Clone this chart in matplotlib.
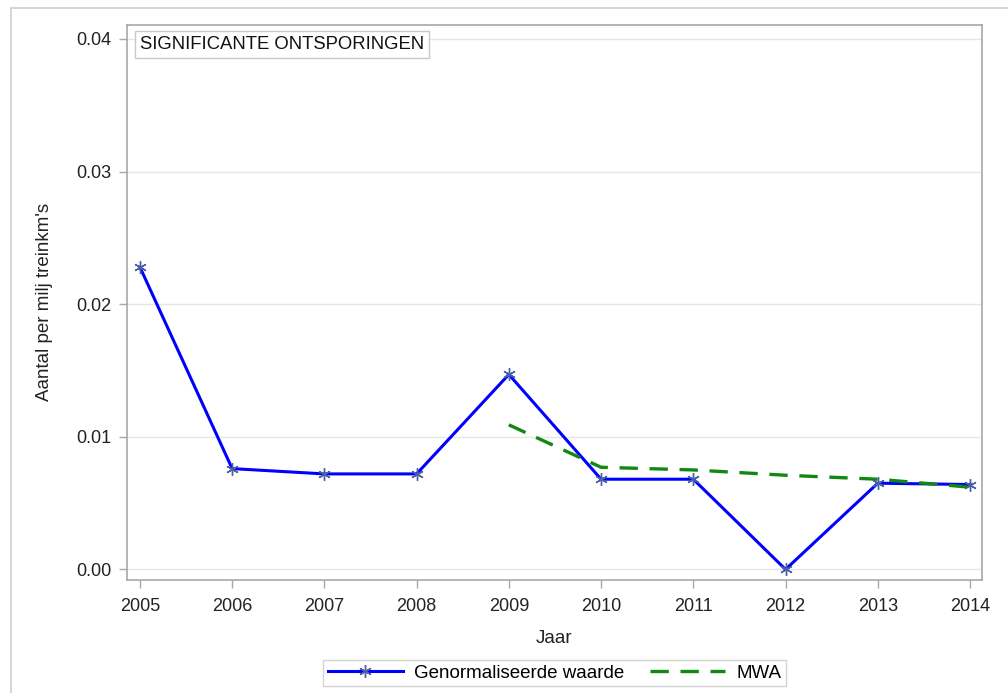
import matplotlib
matplotlib.use("Agg")
import matplotlib.pyplot as plt
from matplotlib.lines import Line2D

plt.rcParams['font.family'] = ['Liberation Sans', 'DejaVu Sans']

years = [2005, 2006, 2007, 2008, 2009, 2010, 2011, 2012, 2013, 2014]
genorm = [0.0228, 0.0076, 0.0072, 0.0072, 0.0147, 0.0068, 0.0068, 0.0000, 0.0065, 0.0064]
mwa_years = [2009, 2010, 2011, 2012, 2013, 2014]
mwa = [0.0109, 0.0077, 0.0075, 0.0071, 0.0068, 0.0062]
yticks = [0.00, 0.01, 0.02, 0.03, 0.04]

fig = plt.figure(figsize=(10.08, 6.93), dpi=100)
ax = fig.add_axes([127 / 1008, 1 - 580 / 693, (982 - 127) / 1008, (580 - 24.5) / 693])

# outer frame (left and top only visible)
fig.add_artist(Line2D([11 / 1008, 11 / 1008], [0, 1 - 8 / 693], transform=fig.transFigure,
                      color='#d0d0d0', lw=1.2))
fig.add_artist(Line2D([11 / 1008, 1], [1 - 8 / 693, 1 - 8 / 693], transform=fig.transFigure,
                      color='#d0d0d0', lw=1.2))

ax.plot(years, genorm, color='#0000ff', lw=2.2, marker=(6, 2, 0), markersize=9,
        markeredgecolor='#4a5fa8', markeredgewidth=1.0, zorder=3,
        label='Genormaliseerde waarde')
ax.plot(mwa_years, mwa, color='#118811', lw=2.4, ls=(0, (5.5, 3.5)), zorder=4, label='MWA')

ax.set_xlim(2004.86, 2014.13)
ax.set_ylim(-0.0008, 0.04109)
ax.set_xticks(years)
ax.set_yticks(yticks)
ax.set_yticklabels(['%.2f' % v for v in yticks])
ax.grid(axis='y', color='#e6e6e6', lw=1.0)
ax.set_axisbelow(True)

for s in ax.spines.values():
    s.set_color('#a8a8a8')
    s.set_linewidth(1.2)
ax.tick_params(colors='#a8a8a8', labelcolor='#222222', labelsize=13, length=6, width=1)
ax.tick_params(axis='x', pad=7)
ax.tick_params(axis='y', pad=5)

ax.set_xlabel('Jaar', fontsize=13.5, color='#222222', labelpad=11)
ax.set_ylabel("Aantal per milj treinkm's", fontsize=13.5, color='#222222', labelpad=17)

ax.text(0.0155, 0.979, 'SIGNIFICANTE ONTSPORINGEN', transform=ax.transAxes, fontsize=13.3,
        va='top', ha='left', color='#111111',
        bbox=dict(boxstyle='square,pad=0.27', fc='white', ec='#c8c8c8', lw=1))

leg = ax.legend(loc='upper center', bbox_to_anchor=(0.5, -0.127), ncol=2, frameon=True,
                fancybox=False, edgecolor='#c8c8c8', fontsize=13.5, handlelength=4.0,
                columnspacing=1.4, borderpad=0.25, handletextpad=0.6)
leg.get_frame().set_linewidth(1)

fig.savefig('out.png', dpi=100)
